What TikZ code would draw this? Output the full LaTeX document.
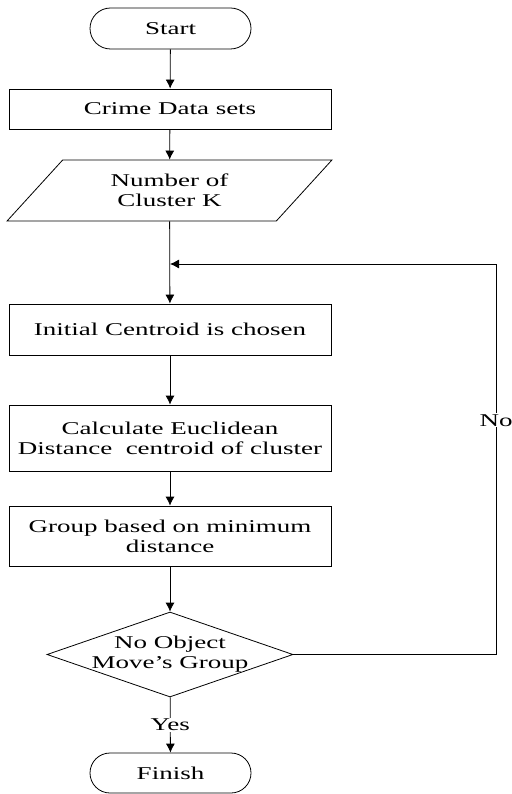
\documentclass[tikz,border=0pt]{standalone}
\usepackage{fontspec}
\setmainfont[FakeStretch=1.5]{Liberation Serif}
\usetikzlibrary{shapes.geometric, shapes.misc, arrows.meta}
\tikzset{
  term/.style={draw, rounded rectangle, minimum width=161pt, minimum height=41pt, inner sep=0pt},
  procbox/.style={draw, rectangle, minimum width=322pt, align=center, inner sep=0pt},
  iobox/.style={draw, trapezium, trapezium left angle=47, trapezium right angle=133, trapezium stretches=true, minimum width=325pt, minimum height=61pt, align=center, inner sep=0pt},
  decbox/.style={draw, diamond, aspect=2.9, minimum width=246pt, minimum height=85pt, align=center, inner sep=-6pt},
  flow/.style={-{Latex[length=9pt, width=9pt]}},
}
\begin{document}
\begin{tikzpicture}[x=1pt, y=-1pt, line width=0.8pt, font=\fontsize{18}{20}\selectfont]
  \useasboundingbox (0,0) rectangle (511,794);
  \node[term] (start) at (170.5,28.5) {Start};
  \node[procbox, minimum height=40pt] (data) at (170,109) {Crime Data sets};
  \node[iobox] (numk) at (169.5,190.5) {Number of\\Cluster K};
  \node[procbox, minimum height=51pt] (init) at (170,329.5) {Initial Centroid is chosen};
  \node[procbox, minimum height=66pt] (calc) at (170,438) {Calculate Euclidean\\Distance~ centroid of cluster};
  \node[procbox, minimum height=60pt] (group) at (170,536) {Group based on minimum\\distance};
  \node[decbox] (decide) at (170,654.5) {No Object\\Move’s Group};
  \node[term, minimum height=40pt] (finish) at (170.5,773) {Finish};
  \coordinate (join) at (170,264);
  \coordinate (back) at (496,264);
  % main line
  \draw[flow] (start) -- (data);
  \draw[flow] (data) -- (numk);
  \draw[flow] (numk) -- (init);
  \draw[flow] (init) -- (calc);
  \draw[flow] (calc) -- (group);
  \draw[flow] (group) -- (decide);
  \draw[flow] (decide) -- node[fill=white, inner sep=1pt] {Yes} (finish);
  % loop back
  \draw[flow] (decide.east) -| node[pos=0.8, fill=white, inner sep=1pt] {No} (back) -- (join);
\end{tikzpicture}
\end{document}
